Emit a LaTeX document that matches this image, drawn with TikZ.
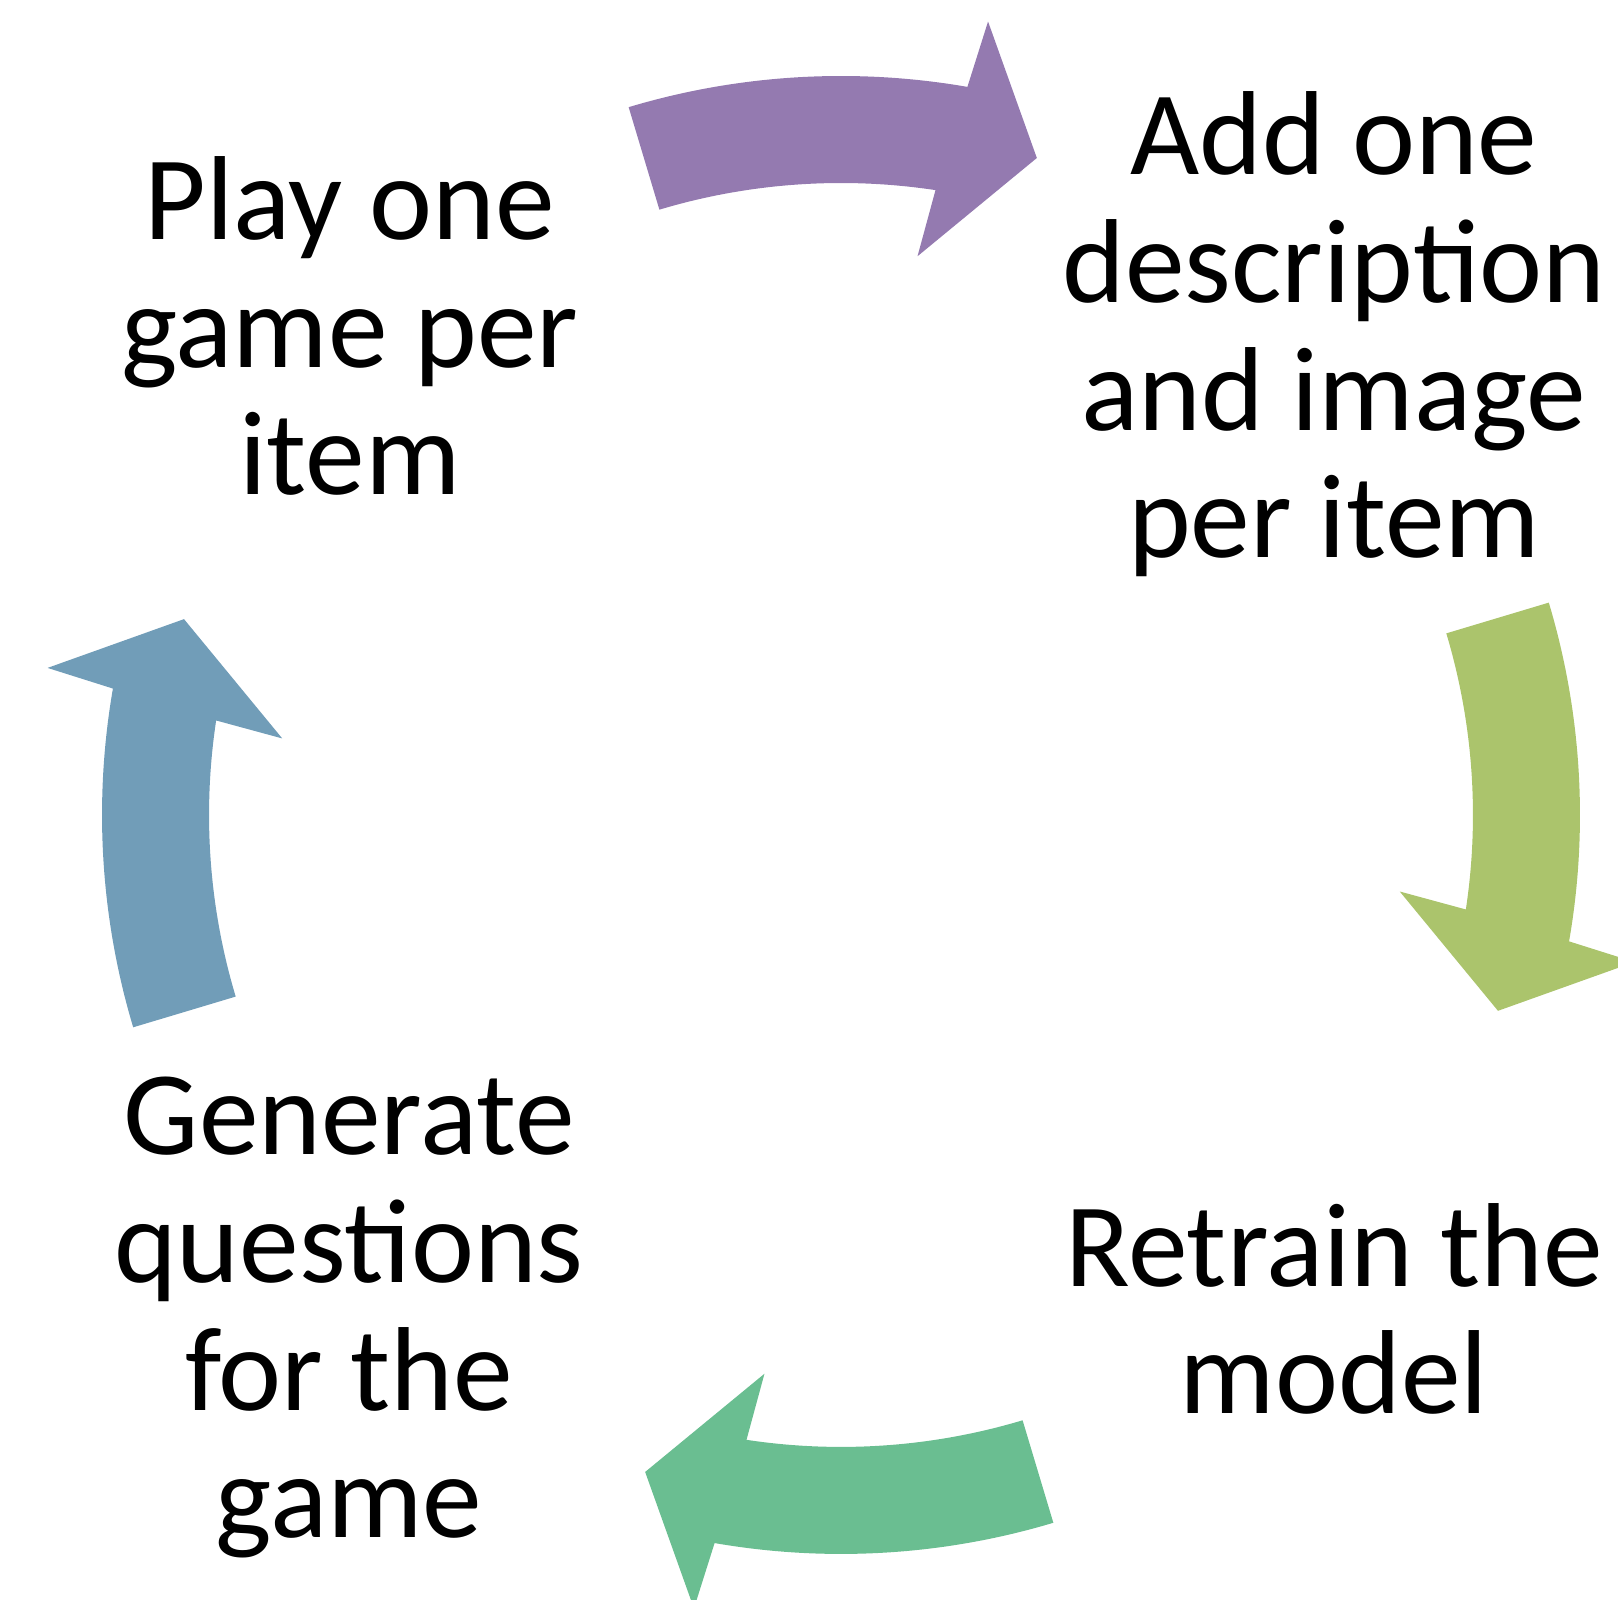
\documentclass[tikz,border=0pt]{standalone}
\usepackage{fontspec}
\setmainfont{Carlito}
\definecolor{arrowpurple}{RGB}{148,122,176}
\definecolor{arrowlime}{RGB}{171,196,108}
\definecolor{arrowgreen}{RGB}{106,190,145}
\definecolor{arrowblue}{RGB}{113,157,184}

\begin{document}
\begin{tikzpicture}
		\tikzset{Step/.style = {align = center, inner sep = 0pt, anchor = base,
			font = \fontsize{34}{36.4}\selectfont}}
		\useasboundingbox (0,0) rectangle (16.18,16);
		\coordinate (C) at (8.41,7.85);
		\foreach \a/\c in {90/arrowpurple, 0/arrowlime, -90/arrowgreen, 180/arrowblue}
			\fill[\c, shift = {(C)}, rotate = \a] (16.7:7.39) arc[start angle = 16.7, end angle = -9.85, radius = 7.39]
				-- (-10.5:8.07) -- (-16.6:6.856) -- (-7.8:5.64) -- (-8.6:6.32)
				arc[start angle = -8.6, end angle = 16.7, radius = 6.32] -- cycle;
		\node[Step]    (Play)     at (3.50,11.05)  {Play one\\game per\\item};
		\node[Step]    (Add)      at (13.34,10.42) {Add one\\description\\and image\\per item};
		\node[Step]    (Retrain)  at (13.34,1.86)  {Retrain the\\model};
		\node[Step]    (Generate) at (3.49,0.62)   {Generate\\questions\\for the\\game};
	\end{tikzpicture}
\end{document}
